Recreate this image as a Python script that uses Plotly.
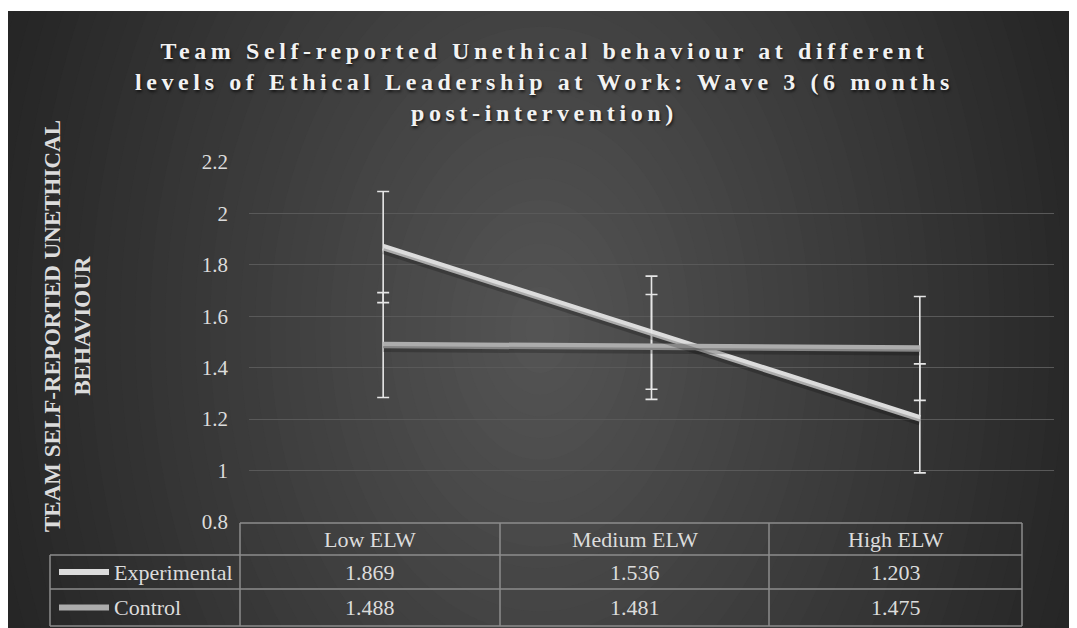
import plotly.graph_objects as go

# ---------------- data ----------------
categories = ["Low ELW", "Medium ELW", "High ELW"]
series_names = ["Experimental", "Control"]
experimental = [1.869, 1.536, 1.203]
control = [1.488, 1.481, 1.475]
experimental_err = [0.216, 0.220, 0.212]
control_err = [0.204, 0.204, 0.202]
y_ticks = [0.8, 1.0, 1.2, 1.4, 1.6, 1.8, 2.0, 2.2]
y_tick_text = ["0.8", "1", "1.2", "1.4", "1.6", "1.8", "2", "2.2"]

title_lines = ["Team Self-reported Unethical behaviour at different",
               "levels of Ethical Leadership at Work: Wave 3 (6 months",
               "post-intervention)"]
y_title = "TEAM SELF-REPORTED UNETHICAL<br>BEHAVIOUR"

# ---------------- layout geometry (figure pixels) ----------------
W, H = 1077, 628
L, R, T, B = 241, 1046, 154, 514

def px(x):
    return (x - L) / (R - L)

def py(y):
    return (B - y) / (B - T)

EXP_COLOR = "#dcdcdc"
CTL_COLOR = "#acacac"
TXT_COLOR = "#dcdcdc"
GRID_COLOR = "#595959"
TABLE_LINE = "#8c8c8c"
SERIF = "Liberation Serif, Times New Roman, serif"

x_idx = list(range(len(categories)))

fig = go.Figure()

# soft shadow traces on a slightly shifted axis
shift = 4.0 / ((B - T) / (y_ticks[-1] - y_ticks[0]))
for vals in (experimental, control):
    fig.add_trace(go.Scatter(
        x=x_idx, y=vals, mode="lines", yaxis="y2",
        line=dict(color="rgba(0,0,0,0.22)", width=6),
        hoverinfo="skip", showlegend=False))

fig.add_trace(go.Scatter(
    x=x_idx, y=experimental, mode="lines", name=series_names[0],
    line=dict(color=EXP_COLOR, width=6.5),
    error_y=dict(type="data", array=experimental_err, visible=True,
                 color="#e6e6e6", thickness=1.6, width=6),
    showlegend=False))
fig.add_trace(go.Scatter(
    x=x_idx, y=control, mode="lines", name=series_names[1],
    line=dict(color=CTL_COLOR, width=6.5),
    error_y=dict(type="data", array=control_err, visible=True,
                 color="#e6e6e6", thickness=1.6, width=6),
    showlegend=False))

shapes = []
# background radial gradient (dark charcoal, lighter centre)
cx, cy = 532, 322
N = 45
c_out, c_in = 0x26, 0x55
for i in range(N):
    d = 1.25 * (1 - i / N)
    rx, ry = 540 * d, 780 * d
    frac = min(d / 1.05, 1.0)
    c = int(round(c_in + (c_out - c_in) * frac))
    col = f"rgb({c},{c},{c})"
    shapes.append(dict(type="circle", xref="paper", yref="paper",
                       x0=px(cx - rx), x1=px(cx + rx), y0=py(cy + ry), y1=py(cy - ry),
                       fillcolor=col, line=dict(width=0), layer="below"))
# thin white strip at the top
shapes.append(dict(type="rect", xref="paper", yref="paper",
                   x0=px(-5), x1=px(W + 5), y0=py(3), y1=py(-5),
                   fillcolor="white", line=dict(width=0), layer="below"))

# ---------------- data table ----------------
col_edges = [232, 492, 761, 1014]
legend_left = 42
row_edges = [515, 547, 581, 618]

def hline(x0, x1, y):
    shapes.append(dict(type="line", xref="paper", yref="paper",
                       x0=px(x0), x1=px(x1), y0=py(y), y1=py(y),
                       line=dict(color=TABLE_LINE, width=1.5), layer="above"))

def vline(x, y0, y1):
    shapes.append(dict(type="line", xref="paper", yref="paper",
                       x0=px(x), x1=px(x), y0=py(y0), y1=py(y1),
                       line=dict(color=TABLE_LINE, width=1.5), layer="above"))

hline(col_edges[0], col_edges[-1], row_edges[0])
for y in row_edges[1:]:
    hline(legend_left, col_edges[-1], y)
vline(legend_left, row_edges[1], row_edges[-1])
for x in col_edges:
    vline(x, row_edges[0], row_edges[-1])

annotations = []
def text_at(x, y, s, anchor="center", size=22, color=TXT_COLOR):
    annotations.append(dict(x=px(x), y=py(y), xref="paper", yref="paper",
                            text=s, showarrow=False, xanchor=anchor, yanchor="middle",
                            font=dict(family=SERIF, size=size, color=color)))

for j, cat in enumerate(categories):
    xc = (col_edges[j] + col_edges[j + 1]) / 2
    text_at(xc, (row_edges[0] + row_edges[1]) / 2, cat)
    text_at(xc, (row_edges[1] + row_edges[2]) / 2, f"{experimental[j]:.3f}")
    text_at(xc, (row_edges[2] + row_edges[3]) / 2, f"{control[j]:.3f}")

for k, (name, color) in enumerate(zip(series_names, [EXP_COLOR, CTL_COLOR])):
    yc = (row_edges[k + 1] + row_edges[k + 2]) / 2
    shapes.append(dict(type="line", xref="paper", yref="paper",
                       x0=px(51), x1=px(101), y0=py(yc), y1=py(yc),
                       line=dict(color=color, width=6), layer="above"))
    text_at(104, yc, name, anchor="left")

# title (letter-spaced bold serif)
title_text = "<br>".join(f'<span style="letter-spacing:4.6px">{t}</span>' for t in title_lines)
annotations.append(dict(x=px(536), y=py(28), xref="paper", yref="paper",
                        text=title_text, showarrow=False, xanchor="center", yanchor="top",
                        align="center",
                        font=dict(family=SERIF, size=24, color="#f2f2f2",
                                  weight="bold", shadow="1px 2px 3px rgba(0,0,0,0.7)")))
# y axis title
annotations.append(dict(x=px(59), y=py(318), xref="paper", yref="paper",
                        text=y_title, showarrow=False, textangle=-90,
                        xanchor="center", yanchor="middle", align="center",
                        font=dict(family=SERIF, size=23, color=TXT_COLOR, weight="bold")))

fig.update_layout(
    width=W, height=H,
    margin=dict(l=L, r=W - R, t=T, b=H - B, pad=0),
    paper_bgcolor="#272727",
    plot_bgcolor="rgba(0,0,0,0)",
    showlegend=False,
    shapes=shapes,
    annotations=annotations,
    xaxis=dict(range=[-0.5, len(categories) - 0.5], showgrid=False, zeroline=False,
               showticklabels=False, showline=False, ticks=""),
    yaxis=dict(range=[y_ticks[0], y_ticks[-1]], tickvals=y_ticks, ticktext=y_tick_text,
               showgrid=True, gridcolor=GRID_COLOR, gridwidth=1, zeroline=False,
               showline=False, ticks="", ticklabelstandoff=20,
               tickfont=dict(family=SERIF, size=21, color=TXT_COLOR)),
    yaxis2=dict(range=[y_ticks[0] + shift, y_ticks[-1] + shift], overlaying="y",
                visible=False, showgrid=False),
)

fig.write_html("out.html")
